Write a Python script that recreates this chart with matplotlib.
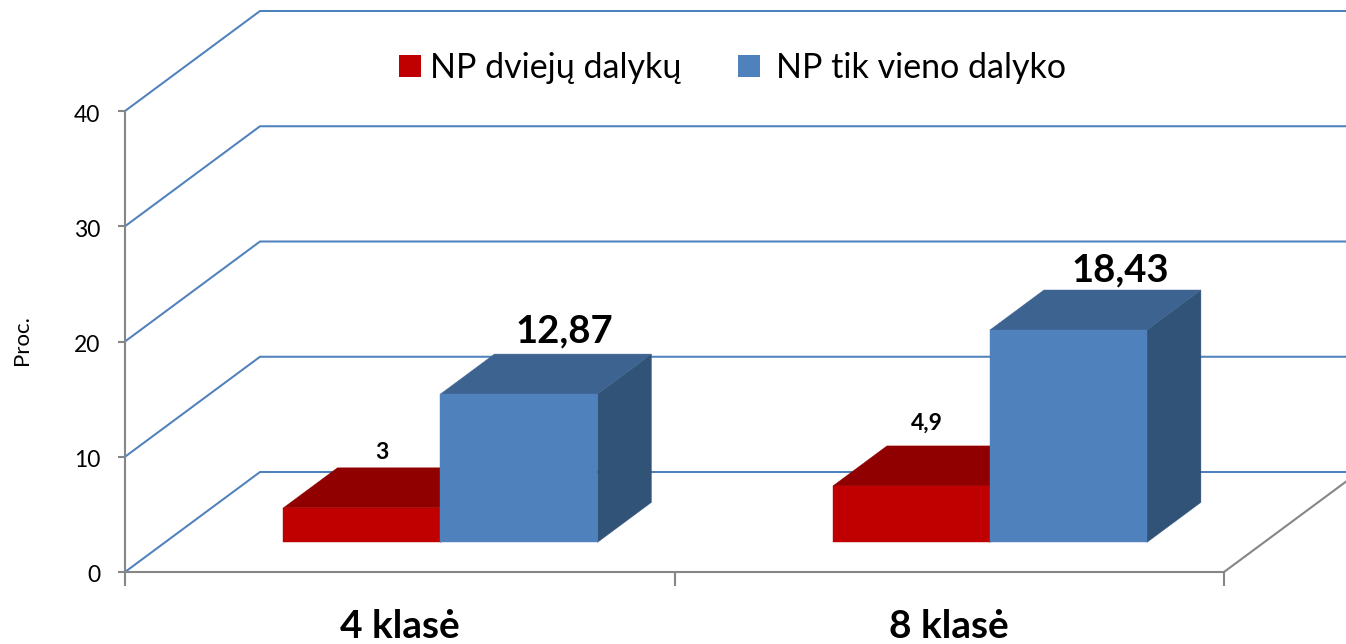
import matplotlib
matplotlib.use("Agg")
import matplotlib.pyplot as plt
from matplotlib.patches import Polygon, Patch
from matplotlib.transforms import ScaledTranslation

# Data
categories = ["4 klasė", "8 klasė"]
series_names = ["NP dviejų dalykų", "NP tik vieno dalyko"]
two_subjects = [3, 4.9]
one_subject = [12.87, 18.43]
two_labels = ["3", "4,9"]
one_labels = ["12,87", "18,43"]
y_ticks = [0, 10, 20, 30, 40]
y_label = "Proc."

# Pixel layout of the 3D chart box
W, H = 1346, 644
X0_PX, X_UNIT_PX = 125.0, 549.5
Y0_PX, Y_UNIT_PX = 572.0, 11.525
DEPTH_DX_PX, DEPTH_DY_PX = 135.0, 100.0
BAR_W = 157.0 / X_UNIT_PX
BAR_SHIFT = 0.7 / X_UNIT_PX
DEPTH_FRONT, DEPTH_BACK = 0.296, 0.696
FONT = ["Lato", "DejaVu Sans"]

C_GRID = "#4F81BD"
C_AXIS = "#868686"
RED = ("#C00000", "#900000", "#900000")
BLUE = ("#4F81BD", "#3D6391", "#325378")

plt.rcParams["font.family"] = FONT
fig = plt.figure(figsize=(W / 100, H / 100), dpi=100)
ax = fig.add_axes([0, 0, 1, 1])
ax.set_xlim(-X0_PX / X_UNIT_PX, (W - X0_PX) / X_UNIT_PX)
ax.set_ylim(-(H - Y0_PX) / Y_UNIT_PX, Y0_PX / Y_UNIT_PX)
ax.patch.set_visible(False)

ddx = DEPTH_DX_PX / X_UNIT_PX
ddy = DEPTH_DY_PX / Y_UNIT_PX


def proj(x, v, f):
    return (x + ddx * f, v + ddy * f)


# Walls: side wall slants and back wall gridlines
for v in y_ticks:
    xs, ys = zip(proj(0, v, 0), proj(0, v, 1), proj(2, v, 1))
    ax.plot(xs, ys, color=C_GRID, lw=1.45, zorder=1, solid_joinstyle="miter")
xs, ys = zip(proj(2, 0, 0), proj(2, 0, 1))
ax.plot(xs, ys, color=C_AXIS, lw=1.5, zorder=1)


def draw_bar(x_left, v, colors, z):
    front, top, side = colors
    x_right = x_left + BAR_W
    f0, f1 = DEPTH_FRONT, DEPTH_BACK
    faces = [
        ([proj(x_right, 0, f0), proj(x_right, 0, f1), proj(x_right, v, f1), proj(x_right, v, f0)], side),
        ([proj(x_left, v, f0), proj(x_right, v, f0), proj(x_right, v, f1), proj(x_left, v, f1)], top),
        ([proj(x_left, 0, f0), proj(x_right, 0, f0), proj(x_right, v, f0), proj(x_left, v, f0)], front),
    ]
    for pts, col in faces:
        ax.add_patch(Polygon(pts, closed=True, fc=col, ec=col, lw=0.3, zorder=z))


# Bars and value labels
PT = 72 / 100
two_off = [(-34, 15), (-39, 23)]
one_off = [(-9, 23), (-2, 20)]
for i in range(len(categories)):
    centre = i + 0.5 + BAR_SHIFT
    draw_bar(centre - BAR_W, two_subjects[i], RED, 2)
    draw_bar(centre, one_subject[i], BLUE, 3)
    anchor_two = proj(centre - BAR_W / 2, two_subjects[i], DEPTH_BACK)
    anchor_one = proj(centre + BAR_W / 2, one_subject[i], DEPTH_BACK)
    ax.annotate(two_labels[i], anchor_two, xytext=(two_off[i][0] * PT, two_off[i][1] * PT),
                textcoords="offset points", ha="center", va="center",
                fontsize=16.5, fontweight="bold", color="black", zorder=5)
    ax.annotate(one_labels[i], anchor_one, xytext=(one_off[i][0] * PT, one_off[i][1] * PT),
                textcoords="offset points", ha="center", va="center",
                fontsize=27.5, fontweight="bold", color="black", zorder=5)

# Real axes
for s in ("top", "right"):
    ax.spines[s].set_visible(False)
for s in ("left", "bottom"):
    ax.spines[s].set_position(("data", 0))
    ax.spines[s].set_color(C_AXIS)
    ax.spines[s].set_linewidth(1.5)
ax.spines["left"].set_bounds(0, 40)
ax.spines["bottom"].set_bounds(0, 2)
ax.set_yticks(y_ticks)
ax.tick_params(axis="y", length=5, width=1.5, color=C_AXIS, pad=13, labelsize=16.5)
shift = ScaledTranslation(0, -2 / 100, fig.dpi_scale_trans)
for lab in ax.get_yticklabels():
    lab.set_transform(lab.get_transform() + shift)
ax.set_xticks([0, 1, 2])
ax.set_xticklabels([])
ax.tick_params(axis="x", which="major", length=10, width=1.5, color=C_AXIS)
ax.set_xticks([0.5, 1.5], minor=True)
ax.set_xticklabels(categories, minor=True, fontsize=28, fontweight="bold")
ax.tick_params(axis="x", which="minor", length=0, pad=27)

fig.text(22 / W, 1 - 340 / H, y_label, rotation=90, ha="center", va="center", fontsize=16)

# Legend: one box per entry, each anchored at its swatch
fs = 24.5
anchors = [399, 738]
pads = [9, 16]
colors = [RED[0], BLUE[0]]
legends = []
for name, col, a, p in zip(series_names, colors, anchors, pads):
    leg = fig.legend([Patch(fc=col, ec="none")], [name], loc="center left",
                     bbox_to_anchor=(a / W, 1 - 68 / H), frameon=False, fontsize=fs,
                     handlelength=22 * PT / fs, handleheight=22 * PT / fs,
                     handletextpad=p * PT / fs, borderpad=0, borderaxespad=0)
    legends.append(leg)

fig.savefig("out.png", dpi=100)
